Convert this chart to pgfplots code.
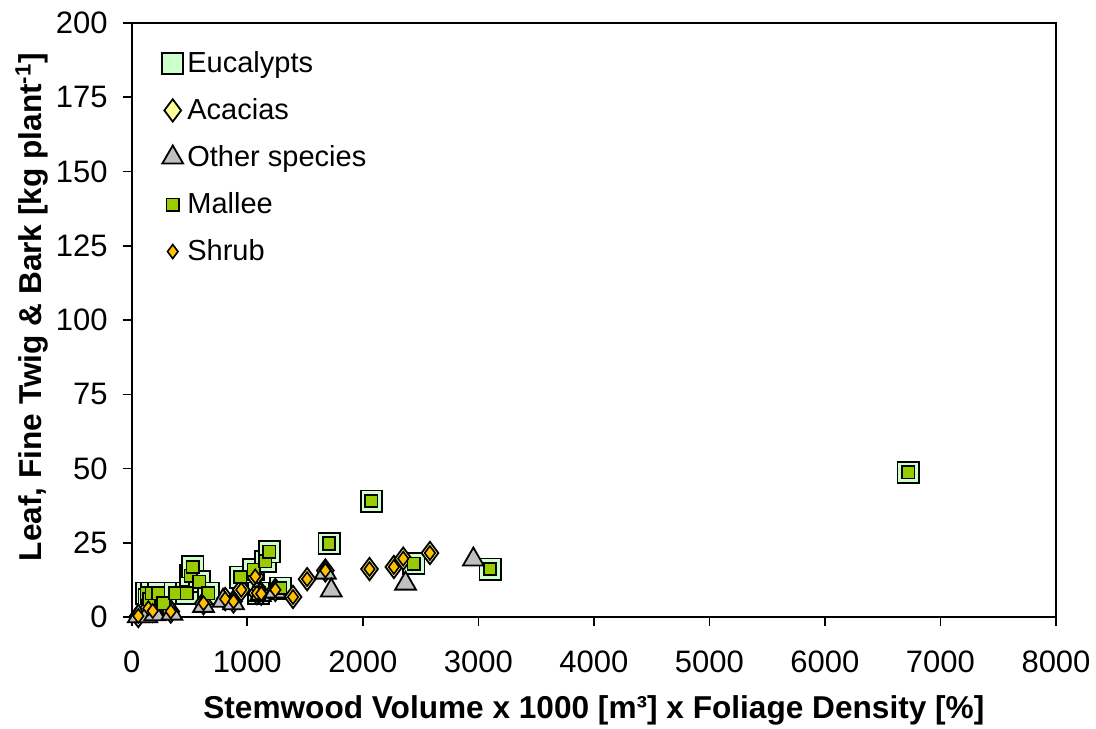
\documentclass[border=0pt]{standalone}
\usepackage{fontspec}
\setmainfont{Liberation Sans}
\usepackage{pgfplots}
\pgfplotsset{compat=1.18}
\definecolor{euc}{HTML}{CCFFCC}
\definecolor{mallee}{HTML}{99CC00}
\definecolor{acacia}{HTML}{FFFF99}
\definecolor{shrub}{HTML}{FFC000}
\definecolor{other}{HTML}{C0C0C0}
\pgfplotstableread{
x y
130 8.1
150 6.0
173 8.1
231 8.1
274 4.7
375 8.1
477 8.1
510 14.0
529 16.9
584 12.0
664 8.1
939 13.5
1055 16.0
1098 8.1
1156 18.8
1191 22.0
1286 9.8
1708 24.8
2075 39.1
2442 18.0
3101 16.2
6720 48.7
}\eucdata
\pgfplotstableread{
x y
57 0.4
144 3.0
182 2.1
338 1.9
621 4.7
809 6.1
881 5.3
948 9.2
1069 13.7
1084 8.1
1121 7.9
1243 9.2
1396 6.8
1518 12.8
1676 15.7
2058 16.2
2269 16.9
2350 19.7
2581 21.6
}\acadata
\pgfplotstableread{
x y
57 0.3
130 0.3
200 1.0
347 1.2
621 3.8
790 5.5
881 4.7
1113 7.5
1243 8.6
1676 15.0
1727 9.0
2370 11.3
2957 19.4
}\otherdata
\begin{document}
\begin{tikzpicture}
\pgfplotsset{
  every axis x label/.style={at={(rel axis cs:0.5,0)}, yshift=-46.5pt, anchor=center},
  every axis y label/.style={at={(rel axis cs:0,0.522)}, xshift=-50pt, rotate=90, anchor=center},
}
\begin{axis}[
  scale only axis, width=462pt, height=297pt,
  xmin=0, xmax=8000, ymin=0, ymax=200,
  xtick={0,1000,...,8000}, ytick={0,25,...,200},
  tick align=outside, major tick length=4.5pt,
  xtick pos=bottom, ytick pos=left,
  scaled x ticks=false,
  /pgf/number format/1000 sep={},
  /pgf/number format/assume math mode=true,
  tick label style={font=\fontsize{15.5}{17}\selectfont},
  xticklabel style={yshift=-9pt},
  yticklabel style={xshift=-4pt},
  tick style={black, line width=0.8pt},
  axis line style={line width=1pt},
  xlabel={Stemwood Volume x 1000 [m³] x Foliage Density [\%]},
  ylabel={Leaf, Fine Twig \& Bark [kg plant\textsuperscript{-1}]},
  label style={font=\bfseries\fontsize{15.8}{18}\selectfont},
  clip=false,
  legend style={at={(0,1)}, anchor=north west, xshift=12pt, yshift=-10pt,
    draw=none, fill=none, font=\fontsize{14.5}{16}\selectfont, row sep=7.5pt},
  legend image post style={xshift=-2pt},
  legend cell align=left,
]
\addplot[only marks, mark=square*, mark size=5.3pt, mark options={fill=euc, draw=black, line width=0.9pt}] table {\eucdata};
\addlegendentry{Eucalypts}
\addplot[only marks, mark=diamond*, mark size=5.6pt, mark options={fill=acacia, draw=black, line width=0.9pt}] table {\acadata};
\addlegendentry{Acacias}
\addplot[only marks, mark=triangle*, mark size=6pt, mark options={fill=other, draw=black, line width=0.9pt}] table {\otherdata};
\addlegendentry{Other species}
\addplot[only marks, mark=square*, mark size=3.1pt, mark options={fill=mallee, draw=black, line width=0.8pt}] table {\eucdata};
\addlegendentry{Mallee}
\addplot[only marks, mark=diamond*, mark size=3.5pt, mark options={fill=shrub, draw=black, line width=0.8pt}] table {\acadata};
\addlegendentry{Shrub}
\coordinate (SW) at (rel axis cs:0,0);
\coordinate (NE) at (rel axis cs:1,1);
\end{axis}
\pgfresetboundingbox
\path ([shift={(-65.85pt,-55.85pt)}]SW) rectangle ([shift={(20pt,11.5pt)}]NE);
\end{tikzpicture}
\end{document}
